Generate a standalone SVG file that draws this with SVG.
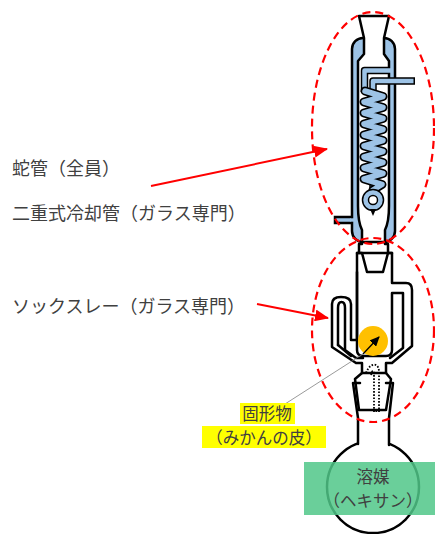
<svg xmlns="http://www.w3.org/2000/svg" width="435" height="534" viewBox="0 0 435 534">
  <style>
    .lbl { font-family: "Noto Sans CJK JP", "Noto Sans", sans-serif; font-size: 18px; fill: #404040; }
    .lbl2 { font-family: "Noto Sans CJK JP", "Noto Sans", sans-serif; font-size: 16.5px; fill: #404040; }
    .glass { fill: #ffffff; stroke: #000000; stroke-width: 2.5; stroke-linejoin: round; }
    .line { fill: none; stroke: #000000; stroke-width: 2.5; stroke-linejoin: round; stroke-linecap: round; }
    .jacket { fill: #9DC3E6; stroke: #000000; stroke-width: 2.5; }
    .pipe-o { fill: none; stroke: #000000; stroke-width: 7.5; stroke-linejoin: round; }
    .pipe-i { fill: none; stroke: #9DC3E6; stroke-width: 4.5; stroke-linejoin: round; }
    .coil-o { fill: none; stroke: #000000; stroke-width: 9; stroke-linejoin: round; stroke-linecap: round; }
    .coil-i { fill: none; stroke: #9DC3E6; stroke-width: 5.5; stroke-linejoin: round; stroke-linecap: round; }
    .zone { fill: none; stroke: #FF0000; stroke-width: 2.2; stroke-dasharray: 8 5; }
    .red-arrow { fill: none; stroke: #FF0000; stroke-width: 2; }
    .dots { fill: none; stroke: #000000; stroke-width: 1.8; stroke-dasharray: 1.6 1.6; }
  </style>
  <defs>
    <marker id="redHead" markerUnits="userSpaceOnUse" markerWidth="14" markerHeight="12" viewBox="0 0 14 12" refX="13" refY="6" orient="auto">
      <path d="M0,0 L14,6 L0,12 Z" fill="#FF0000"/>
    </marker>
    <marker id="blackHead" markerUnits="userSpaceOnUse" markerWidth="10" markerHeight="9" viewBox="0 0 10 9" refX="9" refY="4.5" orient="auto">
      <path d="M0,0 L10,4.5 L0,9 Z" fill="#000000"/>
    </marker>
  </defs>

  <!-- coil condenser -->
  <g id="condenser">
    <path class="jacket" d="M335,217 H354 V223 H335 Z"/>
    <rect class="jacket" x="352" y="38" width="43" height="204" rx="11"/>
    <rect x="350" y="218.3" width="5" height="3.4" fill="#9DC3E6"/>
    <path class="glass" d="M359,16 H389 L384,38 V54 L389,61 V206 Q389,222 385,230 V244 H362 V230 Q358,222 358,206 V61 L364,54 V38 Z"/>
    <path class="glass" d="M362,242 H385 V244 H388 V256 H359 V244 H362 Z"/>
    <!-- coolant pipes -->
    <path class="pipe-o" d="M390,70.5 H364.5 V92"/>
    <path class="pipe-i" d="M391,70.5 H364.5 V92"/>
    <path class="pipe-o" d="M415,81 H373 V194"/>
    <path class="pipe-i" d="M413.5,81 H373 V194"/>
    <path class="coil-o" d="M365,91 L383,96.5 L364,102 L383,107.5 L364,113 L383,118.5 L364,124 L383,129.5 L364,135 L383,140.5 L364,146 L383,151.5 L364,157 L383,162.5 L364,168 L383,173.5 L364,179 L382,184.5 L373,190"/>
    <path class="coil-i" d="M365,91 L383,96.5 L364,102 L383,107.5 L364,113 L383,118.5 L364,124 L383,129.5 L364,135 L383,140.5 L364,146 L383,151.5 L364,157 L383,162.5 L364,168 L383,173.5 L364,179 L382,184.5 L373,190"/>
    <circle cx="373" cy="200" r="7.5" fill="#ffffff" stroke="#000000" stroke-width="7.5"/>
    <circle cx="373" cy="200" r="7.5" fill="none" stroke="#9DC3E6" stroke-width="4.5"/>
    <path d="M370,209 H376 L373,216 Z" fill="#000000"/>
  </g>

  <!-- soxhlet extractor -->
  <g id="soxhlet">
    <path class="glass" d="M357,253 H392 V283 H406 Q412,283 412,290 V346 L392,363 H386 V373 H362 V363 H356 L332,347 V304 Q332,297 341,297 Q351,297 351,304 V340 H357 Z"/>
    <path class="line" d="M357,253 H362 L367,272 H383 L388,253 H392"/>
    <path class="line" d="M357,272 V350 Q357,356 363,356 H386 Q392,356 392,350 V293 H403 V348 L390,358"/>
    <path class="line" d="M338,345 V308 Q338,302 341.5,302 Q345,302 345,308 V350 L356,358 H363"/>
    <path class="line" d="M338,345 L351,356"/>
    <circle cx="373" cy="341" r="15" fill="#FFC000"/>
    <path class="dots" d="M366,373 C370,362 379,362 379,372 V412 H374 V376 C374,369 372,369 371,376"/>
    <path class="line" d="M362,373 L355,379 L359,410 H386 L391,379 L386,373"/>
  </g>

  <!-- round-bottom flask -->
  <g id="flask">
    <circle cx="373" cy="487" r="46" fill="#ffffff" stroke="#000000" stroke-width="2.5"/>
    <rect x="358" y="412" width="31" height="36" fill="#ffffff"/>
    <path class="line" d="M353,383 H360 M386,383 H393 M353,383 L358,418 V444 M393,383 L389,418 V445"/>
  </g>

  <!-- solvent label -->
  <g id="solvent">
    <rect x="304" y="462" width="131" height="53" fill="#50C788" fill-opacity="0.85"/>
    <text class="lbl2" x="373" y="483" text-anchor="middle">溶媒</text>
    <text class="lbl2" x="373" y="507" text-anchor="middle">（ヘキサン）</text>
  </g>

  <!-- dashed outlines -->
  <g id="zones">
    <ellipse class="zone" cx="373" cy="128" rx="61" ry="116"/>
    <ellipse class="zone" cx="373" cy="330" rx="61" ry="92"/>
  </g>

  <!-- connectors -->
  <g id="connectors">
    <line class="red-arrow" x1="151" y1="186" x2="327" y2="149" marker-end="url(#redHead)"/>
    <line class="red-arrow" x1="257" y1="304" x2="328" y2="318" marker-end="url(#redHead)"/>
    <line x1="285" y1="404" x2="363" y2="354" stroke="#808080" stroke-width="0.8"/>
    <line x1="363" y1="354" x2="379" y2="337" stroke="#000000" stroke-width="1.3" marker-end="url(#blackHead)"/>
  </g>

  <!-- labels -->
  <g id="label-coil">
    <text class="lbl" x="12" y="175">蛇管（全員）</text>
  </g>
  <g id="label-condenser">
    <text class="lbl" x="12" y="220">二重式冷却管（ガラス専門）</text>
  </g>
  <g id="label-soxhlet">
    <text class="lbl" x="12" y="313">ソックスレー（ガラス専門）</text>
  </g>
  <g id="label-solid">
    <rect x="240" y="403" width="55" height="21" fill="#FFFF00"/>
    <rect x="202" y="426" width="124" height="22" fill="#FFFF00"/>
    <text class="lbl2" x="267" y="420" text-anchor="middle">固形物</text>
    <text class="lbl2" x="264" y="444" text-anchor="middle">（みかんの皮）</text>
  </g>
</svg>
